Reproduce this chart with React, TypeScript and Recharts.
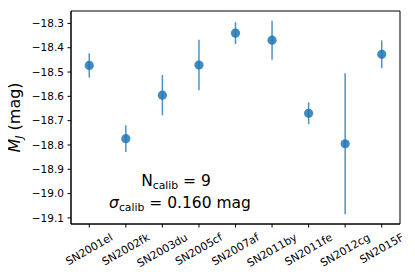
import React from "react";
import { ScatterChart, Scatter, XAxis, YAxis, ErrorBar, ReferenceArea } from "recharts";

const categories = ["SN2001el", "SN2002fk", "SN2003du", "SN2005cf", "SN2007af", "SN2011by", "SN2011fe", "SN2012cg", "SN2015F"];
const magnitudes = [-18.473, -18.774, -18.595, -18.471, -18.34, -18.369, -18.67, -18.795, -18.427];
const errors = [0.05, 0.055, 0.083, 0.104, 0.045, 0.08, 0.045, 0.29, 0.057];
const yTicks = [-19.1, -19.0, -18.9, -18.8, -18.7, -18.6, -18.5, -18.4, -18.3];
const xDomain: [number, number] = [-0.5, 8.5];
const yDomain: [number, number] = [-19.125, -18.249];
const nCalib = 9;
const sigmaCalib = "0.160";

const data = categories.map((name, i) => ({ x: i, y: magnitudes[i], err: errors[i], name }));

const FONT = "DejaVu Sans, sans-serif";
const BLUE = "#1f77b4";
const W = 407;
const H = 271;
const XFS = 10.8;

const charW: Record<string, number> = {
  S: 0.635, N: 0.748, e: 0.615, l: 0.278, f: 0.352, k: 0.579, d: 0.635, u: 0.634, c: 0.55,
  a: 0.613, y: 0.592, g: 0.635, F: 0.575, b: 0.635,
};
const textWidth = (s: string, fs: number) =>
  s.split("").reduce((acc, ch) => acc + (charW[ch] ?? 0.636) * fs, 0);

const XTick = (props: any) => {
  const { x, y, payload } = props;
  const label = categories[payload.value] ?? "";
  const w = textWidth(label, XFS);
  const bboxH = w * 0.5 + XFS * 1.16 * 0.866;
  const cy = y + bboxH / 2;
  return (
    <text
      x={0}
      y={0}
      transform={`translate(${x},${cy}) rotate(-30)`}
      textAnchor="middle"
      dominantBaseline="central"
      fontSize={XFS}
      fontFamily={FONT}
      fill="#000"
    >
      {label}
    </text>
  );
};

const fmtY = (v: number) => (v < 0 ? "\u2212" + Math.abs(v).toFixed(1) : v.toFixed(1));

const Dot = (props: any) => {
  const { cx, cy } = props;
  return <circle cx={cx} cy={cy} r={4.6} fill={BLUE} fillOpacity={0.85} />;
};

export default function App() {
  return (
    <div style={{ position: "relative", width: W, height: H, fontFamily: FONT }}>
      <ScatterChart width={W} height={H} margin={{ top: 3, right: 15, bottom: 0, left: 23 }}>
        <XAxis
          dataKey="x"
          type="number"
          domain={xDomain}
          ticks={[0, 1, 2, 3, 4, 5, 6, 7, 8]}
          allowDataOverflow
          height={55}
          tickSize={3.5}
          tickMargin={3.5}
          tick={<XTick />}
          axisLine={{ stroke: "#000", strokeWidth: 1 }}
          tickLine={{ stroke: "#000", strokeWidth: 1 }}
          interval={0}
        />
        <YAxis
          dataKey="y"
          type="number"
          domain={yDomain}
          ticks={yTicks}
          allowDataOverflow
          width={40}
          tickSize={3.5}
          tickMargin={3.5}
          tickFormatter={fmtY}
          tick={{ fontSize: 10.5, fill: "#000", fontFamily: FONT }}
          axisLine={{ stroke: "#000", strokeWidth: 1 }}
          tickLine={{ stroke: "#000", strokeWidth: 1 }}
          interval={0}
        />
        <ReferenceArea
          x1={xDomain[0]}
          x2={xDomain[1]}
          y1={yDomain[0]}
          y2={yDomain[1]}
          fill="none"
          fillOpacity={0}
          stroke="#000"
          strokeWidth={1}
          ifOverflow="visible"
        />
        <Scatter data={data} dataKey="y" shape={<Dot />} isAnimationActive={false}>
          <ErrorBar dataKey="err" direction="y" width={0} stroke={BLUE} strokeOpacity={0.8} strokeWidth={1.5} />
        </Scatter>
      </ScatterChart>
      <svg
        width={W}
        height={H}
        style={{ position: "absolute", left: 0, top: 0, pointerEvents: "none", overflow: "visible" }}
      >
        <text
          transform={`translate(12,109.5) rotate(-90)`}
          textAnchor="middle"
          fontSize={16}
          fontFamily={FONT}
          fill="#000"
        >
          <tspan fontStyle="italic">M</tspan>
          <tspan fontStyle="italic" fontSize={11} dy={3}>J</tspan>
          <tspan dy={-3}> (mag)</tspan>
        </text>
        <text x={168} y={178} textAnchor="middle" fontSize={15.5} fontFamily={FONT} fill="#000">
          <tspan>N</tspan>
          <tspan fontSize={10.8} dy={3}>calib</tspan>
          <tspan dy={-3}>{` = ${nCalib}`}</tspan>
        </text>
        <text x={172} y={199.5} textAnchor="middle" fontSize={15.5} fontFamily={FONT} fill="#000">
          <tspan fontStyle="italic">σ</tspan>
          <tspan fontSize={10.8} dy={3}>calib</tspan>
          <tspan dy={-3}>{` = ${sigmaCalib} mag`}</tspan>
        </text>
      </svg>
    </div>
  );
}
